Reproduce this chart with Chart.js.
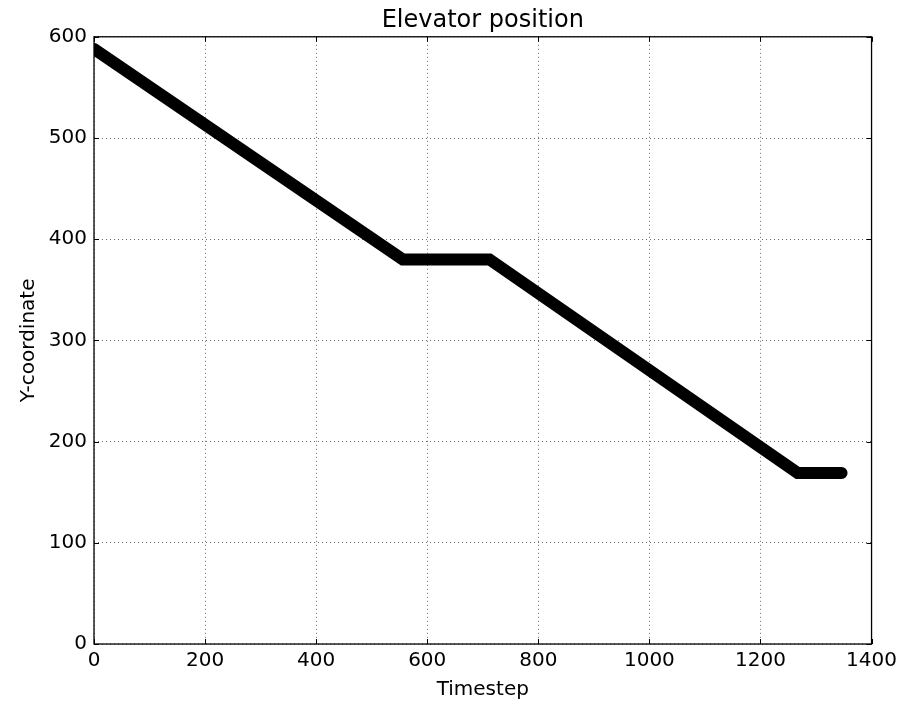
<!DOCTYPE html>
<html>
<head>
  <title>Elevator position</title>
  <script src="https://cdn.jsdelivr.net/npm/chart.js"></script>
  <style>
    body { margin: 0; background: #fff; }
    #wrap { width: 902px; height: 704px; }
  </style>
</head>
<body>

<div id="wrap">
  <canvas id="chartLift" width="902" height="704"></canvas>
</div>

<script>
// data (knees of the path)
const timestep = [0, 556, 712, 1267, 1346];
const posY = [588, 380, 380, 169, 169];
const xTicks = [0, 200, 400, 600, 800, 1000, 1200, 1400];
const yTicks = [0, 100, 200, 300, 400, 500, 600];

const points = timestep.map((t, i) => ({ x: t, y: posY[i] }));

Chart.defaults.font.family = 'DejaVu Sans';
Chart.defaults.color = '#000';

// box round the plot + small inward ticks, matplotlib style
const frame = {
  id: 'frame',
  afterDatasetsDraw(chart) {
    const { ctx, chartArea: a, scales } = chart;
    ctx.save();
    ctx.strokeStyle = '#000';
    ctx.lineWidth = 1.3;
    ctx.strokeRect(a.left, a.top, a.right - a.left, a.bottom - a.top);
    ctx.lineWidth = 1;
    xTicks.forEach(v => {
      const px = Math.round(scales.x.getPixelForValue(v)) + 0.5;
      ctx.beginPath();
      ctx.moveTo(px, a.bottom); ctx.lineTo(px, a.bottom - 5);
      ctx.moveTo(px, a.top); ctx.lineTo(px, a.top + 5);
      ctx.stroke();
    });
    yTicks.forEach(v => {
      const py = Math.round(scales.y.getPixelForValue(v)) + 0.5;
      ctx.beginPath();
      ctx.moveTo(a.left, py); ctx.lineTo(a.left + 5, py);
      ctx.moveTo(a.right, py); ctx.lineTo(a.right - 5, py);
      ctx.stroke();
    });
    ctx.restore();
  }
};

new Chart(document.getElementById('chartLift').getContext('2d'), {
  type: 'line',
  data: {
    datasets: [{
      data: points,
      borderColor: '#000',
      borderWidth: 12,
      borderCapStyle: 'round',
      borderJoinStyle: 'miter',
      pointRadius: 0,
      fill: false,
      tension: 0,
      clip: 0
    }]
  },
  options: {
    responsive: false,
    animation: false,
    layout: { padding: { left: 0, right: 30, top: 0, bottom: 0 } },
    plugins: {
      legend: { display: false },
      tooltip: { enabled: false },
      title: {
        display: true,
        fullSize: false,
        text: 'Elevator position',
        font: { size: 24, weight: 'normal' },
        color: '#000',
        padding: { top: 6, bottom: 2 }
      }
    },
    scales: {
      x: {
        type: 'linear',
        min: 0, max: 1400,
        afterBuildTicks: s => { s.ticks = xTicks.map(v => ({ value: v })); },
        afterFit: s => { s.height = 60; },
        ticks: { font: { size: 20 }, padding: 5, maxRotation: 0, callback: v => String(v) },
        grid: { color: '#444', lineWidth: 0.8, drawTicks: false },
        border: { display: false, dash: [1, 3] },
        title: { display: true, text: 'Timestep', font: { size: 20 }, padding: { top: 0, bottom: 2 } }
      },
      y: {
        min: 0, max: 600,
        afterBuildTicks: s => { s.ticks = yTicks.map(v => ({ value: v })); },
        afterFit: s => { s.width = 94; },
        ticks: { font: { size: 20 }, padding: 7, callback: v => String(v) },
        grid: { color: '#444', lineWidth: 0.8, drawTicks: false },
        border: { display: false, dash: [1, 3] },
        title: { display: true, text: 'Y-coordinate', font: { size: 20 }, padding: { top: 17, bottom: 0 } }
      }
    }
  },
  plugins: [frame]
});
</script>

</body>
</html>
